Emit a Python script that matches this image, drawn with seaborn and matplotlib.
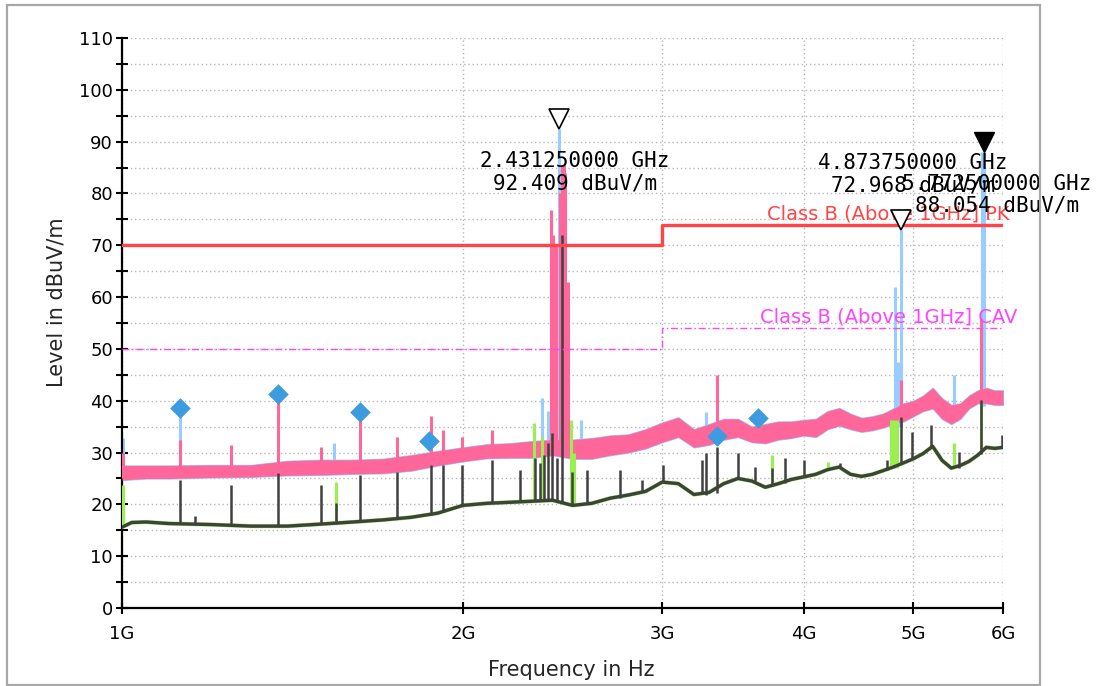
"""
Radiated emission scan 1 GHz - 6 GHz (Class B, above 1 GHz)
Peak / average traces with limit lines, markers and final points.
"""

import numpy as np
import pandas as pd
import matplotlib
matplotlib.use("Agg")
import matplotlib.pyplot as plt
import matplotlib.transforms as mtransforms
import matplotlib.patches as mpatches
from matplotlib.ticker import MultipleLocator, NullLocator
import seaborn as sns

# ---- data (frequency in GHz, level in dBuV/m) ----

# peak trace noise floor: frequency and lower / upper edge of the band
band_freq = [1.00, 1.05, 1.10, 1.20, 1.30, 1.40, 1.50, 1.60, 1.70, 1.80, 1.90,
             2.00, 2.10, 2.20, 2.30, 2.40, 2.50, 2.60, 2.70, 2.80, 2.90, 3.00,
             3.10, 3.20, 3.30, 3.40, 3.50, 3.60, 3.70, 3.80, 3.90, 4.00, 4.10,
             4.20, 4.30, 4.40, 4.50, 4.60, 4.70, 4.80, 4.90, 5.00, 5.10, 5.20,
             5.30, 5.40, 5.50, 5.60, 5.70, 5.80, 5.90, 6.00]
band_high = [27.5, 27.5, 27.5, 27.6, 27.6, 28.4, 28.6, 28.6, 28.8, 29.5, 30.3,
             31.0, 31.6, 31.8, 32.2, 32.5, 32.5, 32.8, 33.3, 33.5, 34.5, 35.8,
             36.8, 34.5, 35.5, 36.5, 36.5, 35.0, 35.5, 36.0, 36.0, 36.3, 36.5,
             38.0, 38.6, 37.5, 36.7, 37.0, 37.5, 38.5, 39.5, 40.0, 41.0, 42.5,
             40.5, 39.2, 39.5, 41.0, 42.0, 42.5, 42.0, 42.0]
band_low = [24.7, 25.0, 25.0, 25.2, 25.3, 25.6, 25.7, 25.9, 26.0, 26.5, 27.5,
            28.3, 28.9, 29.0, 29.0, 29.5, 28.8, 28.8, 29.5, 30.0, 30.8, 32.0,
            33.0, 31.0, 31.5, 32.5, 33.0, 32.0, 31.8, 32.5, 32.8, 33.3, 33.0,
            34.5, 35.2, 34.5, 34.0, 34.3, 34.8, 35.5, 36.0, 37.0, 38.0, 38.5,
            36.5, 35.5, 36.5, 38.5, 39.5, 39.5, 39.2, 39.2]

# average trace floor
avg_freq = [1.00, 1.02, 1.05, 1.10, 1.20, 1.30, 1.40, 1.50, 1.60, 1.70, 1.80,
            1.90, 2.00, 2.10, 2.20, 2.30, 2.40, 2.50, 2.60, 2.70, 2.80, 2.90,
            3.00, 3.10, 3.20, 3.30, 3.40, 3.50, 3.60, 3.70, 3.80, 3.90, 4.00,
            4.10, 4.20, 4.30, 4.40, 4.50, 4.60, 4.70, 4.80, 4.90, 5.00, 5.10,
            5.20, 5.30, 5.40, 5.50, 5.60, 5.70, 5.80, 5.90, 6.00]
avg_level = [15.6, 16.5, 16.6, 16.3, 16.1, 15.8, 15.8, 16.2, 16.6, 17.0, 17.5,
             18.3, 19.8, 20.2, 20.4, 20.6, 20.8, 19.8, 20.2, 21.2, 21.8, 22.5,
             24.3, 24.0, 21.9, 22.3, 24.0, 25.0, 24.5, 23.3, 24.0, 24.8, 25.3,
             25.8, 26.7, 27.2, 25.8, 25.4, 25.8, 26.5, 27.2, 28.0, 28.8, 29.8,
             31.2, 28.5, 27.0, 27.5, 28.3, 29.5, 31.0, 30.8, 31.0]

# narrow spikes: frequency, foot and top of each spike
pink_spike_freq = [1.002, 1.125, 1.247, 1.372, 1.498, 1.624, 1.751, 1.873, 1.922,
                   1.998, 2.123, 2.393, 2.405, 2.418, 2.435, 2.448, 2.455, 2.462,
                   2.477, 3.352, 4.879, 5.738]
pink_spike_base = [25.0, 26.0, 26.0, 26.5, 26.5, 27.0, 27.0, 28.0, 28.5,
                   29.0, 29.5, 30.0, 30.0, 30.0, 30.0, 30.0, 30.0, 30.0,
                   30.0, 32.0, 36.0, 39.0]
pink_spike_top = [29.9, 32.4, 31.5, 41.0, 31.1, 37.8, 33.0, 37.1, 34.4,
                  33.0, 34.4, 76.8, 72.0, 70.0, 80.0, 85.5, 85.5, 84.0,
                  62.9, 45.0, 44.0, 56.0]

blue_spike_freq = [1.002, 1.125, 1.540, 2.350, 2.380, 2.43125, 2.544, 3.277,
                   4.820, 4.850, 4.87375, 5.433, 5.750, 5.7725]
blue_spike_base = [25.0, 27.0, 27.0, 30.0, 30.0, 30.0, 30.0, 33.0,
                   35.0, 35.0, 35.0, 36.0, 39.0, 39.0]
blue_spike_top = [32.8, 38.6, 31.8, 40.5, 38.0, 92.409, 36.3, 37.8,
                  62.0, 47.5, 72.968, 45.0, 88.054, 88.054]

green_spike_freq = [1.002, 1.544, 2.310, 2.350, 2.490, 2.510, 3.748, 4.200,
                    4.780, 4.810, 4.840, 5.433, 5.740]
green_spike_base = [15.6, 16.3, 20.5, 20.6, 19.8, 19.8, 23.5, 26.7,
                    27.0, 27.0, 27.0, 27.0, 29.8]
green_spike_top = [23.7, 24.3, 35.7, 33.0, 36.3, 30.0, 29.5, 28.2,
                   36.3, 36.3, 36.3, 31.8, 39.8]

gray_spike_freq = [1.125, 1.160, 1.247, 1.372, 1.498, 1.544, 1.624, 1.751, 1.873,
                   1.922, 1.998, 2.123, 2.247, 2.317, 2.340, 2.360, 2.376, 2.398,
                   2.420, 2.448, 2.497, 2.574, 2.753, 2.878, 3.004, 3.251, 3.277,
                   3.352, 3.498, 3.620, 3.748, 3.848, 3.999, 4.311, 4.742, 4.879,
                   4.989, 5.185, 5.489, 5.738, 5.985]
gray_spike_base = [16.3, 16.2, 16.0, 15.8, 16.2, 16.3, 16.6, 17.3, 18.0,
                   18.5, 19.8, 20.2, 20.5, 20.6, 20.6, 20.7, 20.7, 20.8,
                   20.8, 20.5, 19.8, 20.0, 21.3, 22.3, 24.3, 22.0, 21.9,
                   22.1, 25.0, 24.5, 23.5, 24.2, 25.3, 27.2, 26.7, 28.0,
                   28.8, 30.8, 27.1, 29.8, 31.0]
gray_spike_top = [24.7, 17.8, 23.7, 26.0, 23.7, 20.3, 25.7, 26.2, 27.6,
                  27.6, 27.6, 28.6, 26.6, 29.0, 28.0, 29.5, 31.8, 33.8,
                  29.0, 72.0, 26.2, 26.6, 26.6, 24.7, 27.6, 28.6, 29.9,
                  31.1, 29.9, 27.2, 27.0, 29.0, 28.6, 28.0, 28.6, 36.9,
                  34.0, 35.3, 30.1, 40.1, 33.4]

# limit lines (steps)
limit_freq = [1.0, 3.0, 6.0]
pk_limit = [70.0, 74.0, 74.0]
cav_limit = [50.0, 54.0, 54.0]

# final measurement points
final_freq = [1.125, 1.372, 1.624, 1.868, 3.352, 3.642]
final_level = [38.6, 41.3, 37.8, 32.2, 33.2, 36.7]

# markers
marker_freq = [2.43125, 4.87375, 5.7725]
marker_level = [92.409, 72.968, 88.054]
marker_text = ["2.431250000 GHz\n92.409 dBuV/m",
               "4.873750000 GHz\n72.968 dBuV/m",
               "5.772500000 GHz\n88.054 dBuV/m"]

x_ticks = [1, 2, 3, 4, 5, 6]
x_tick_labels = ["1G", "2G", "3G", "4G", "5G", "6G"]

# colours
PINK = "#ff6699"
BLUE = "#99ccff"
GREEN = "#99f050"
GRAY = "#404040"
RED = "#ff4545"
MAGENTA = "#ff44ff"
DIAMOND = "#3d9be0"

sns.set_theme(style="white")
plt.rcParams["font.family"] = ["DejaVu Sans"]

fig = plt.figure(figsize=(11.02, 6.86), dpi=100)
ax = fig.add_axes([122 / 1102, 78 / 686, 881 / 1102, 570 / 686])

# peak traces (blue under pink)
ax.fill_between(band_freq, band_low, band_high, facecolor=BLUE,
                edgecolor=BLUE, lw=1.0, zorder=2)
ax.vlines(blue_spike_freq, blue_spike_base, blue_spike_top, color=BLUE, lw=2.2, zorder=2)
ax.fill_between(band_freq, band_low, band_high, facecolor=PINK, lw=0, zorder=3)
ax.vlines(pink_spike_freq, pink_spike_base, pink_spike_top, color=PINK, lw=2.2, zorder=3)

# average traces (green under dark gray)
avg_df = pd.DataFrame({"freq": avg_freq, "level": avg_level})
sns.lineplot(data=avg_df, x="freq", y="level", color=GREEN, lw=3.0, ax=ax, zorder=4)
ax.vlines(green_spike_freq, green_spike_base, green_spike_top, color=GREEN, lw=2.2, zorder=4)
sns.lineplot(data=avg_df, x="freq", y="level", color=GRAY, lw=2.4, ax=ax, zorder=5)
ax.vlines(gray_spike_freq, gray_spike_base, gray_spike_top, color=GRAY, lw=1.8, zorder=5)

# limit lines
lim_df = pd.DataFrame({"freq": limit_freq, "pk": pk_limit, "cav": cav_limit})
sns.lineplot(data=lim_df, x="freq", y="pk", color=RED, lw=2.4,
             drawstyle="steps-post", ax=ax, zorder=6)
sns.lineplot(data=lim_df, x="freq", y="cav", color=MAGENTA, lw=1.0,
             drawstyle="steps-post", linestyle=(0, (5, 2, 1, 2)), ax=ax, zorder=6)
ax.text(3.71, 76.1, "Class B (Above 1GHz] PK", color=RED, fontsize=14,
        ha="left", va="center", zorder=8)
ax.text(3.66, 56.2, "Class B (Above 1GHz] CAV", color=MAGENTA, fontsize=14,
        ha="left", va="center", zorder=8)

# final points
sns.scatterplot(x=final_freq, y=final_level, marker="D", s=110, color=DIAMOND,
                linewidth=0, ax=ax, zorder=7)

# markers: triangles sit just above the peak
up = mtransforms.offset_copy(ax.transData, fig=fig, x=0, y=10, units="dots")
ax.plot(marker_freq[:2], marker_level[:2], linestyle="none", marker="v", ms=14,
        mfc="white", mec="black", mew=1.2, transform=up, zorder=9, clip_on=False)
ax.plot(marker_freq[2:], marker_level[2:], linestyle="none", marker="v", ms=14,
        mfc="black", mec="black", transform=up, zorder=9, clip_on=False)

# marker read-outs (the last two overlap, as in the instrument printout)
text_offsets = [(16, -43), (12, 56), (13, -43)]
for f, lv, txt, off in zip(marker_freq, marker_level, marker_text, text_offsets):
    ax.annotate(txt, xy=(f, lv), xytext=off, textcoords="offset pixels",
                ha="center", va="center", fontsize=15, family="DejaVu Sans Mono",
                linespacing=1.15, color="black", zorder=10)

# axes styling
ax.set_xscale("log")
ax.set_xlim(1, 6)
ax.set_ylim(0, 110)
ax.set_xticks(x_ticks, labels=x_tick_labels)
ax.xaxis.set_minor_locator(NullLocator())
ax.yaxis.set_major_locator(MultipleLocator(10))
ax.yaxis.set_minor_locator(MultipleLocator(5))

for side in ["top", "right"]:
    ax.spines[side].set_visible(False)
for side in ["left", "bottom"]:
    ax.spines[side].set_color("black")
    ax.spines[side].set_linewidth(1.6)

ax.tick_params(axis="both", which="both", direction="inout", length=9, width=1.5,
               color="black", labelsize=13, labelcolor="black",
               bottom=True, left=True)
ax.tick_params(axis="x", pad=8)
ax.tick_params(axis="y", pad=2)

ax.yaxis.grid(True, which="both", color="#b8b8b8", lw=1, linestyle=(0, (1, 2)))
ax.xaxis.grid(True, which="major", color="#b8b8b8", lw=1, linestyle=(0, (1, 2)))
ax.set_axisbelow(True)

ax.set_xlabel("Frequency in Hz", fontsize=15, va="center")
ax.set_ylabel("Level in dBuV/m", fontsize=15, va="center")
ax.xaxis.set_label_coords(0.51, -0.109)
ax.yaxis.set_label_coords(-0.074, 0.537)

# outer frame
frame = mpatches.Rectangle((7 / 1102, 1 / 686), 1033 / 1102, 680 / 686,
                           transform=fig.transFigure, fill=False,
                           edgecolor="#a8a8a8", lw=1.6)
fig.add_artist(frame)

fig.savefig("out.png", dpi=100)
plt.close(fig)
